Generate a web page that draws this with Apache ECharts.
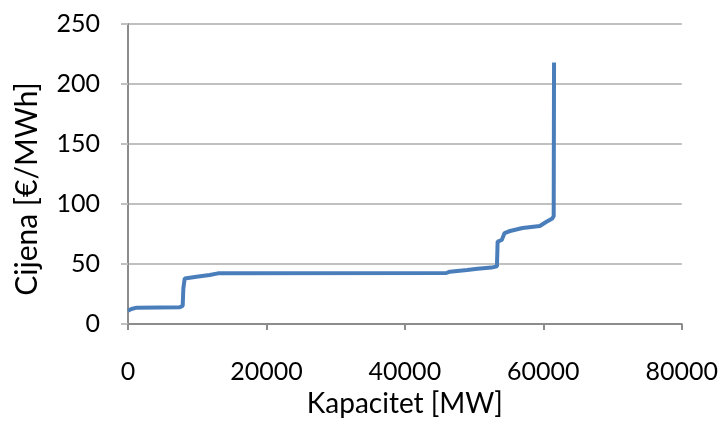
<!DOCTYPE html>
<html><head><meta charset="utf-8">
<script src="https://cdn.jsdelivr.net/npm/echarts@6/dist/echarts.min.js"></script>
<style>html,body{margin:0;padding:0;background:#fff}#c{width:721px;height:426px}</style>
</head><body><div id="c"></div>
<script>
const capacity = [0, 500, 1250, 7500, 7900, 8000, 8200, 9900, 11800, 13000, 46000, 46500, 49000, 50500, 52500, 53300, 53400, 54000, 54400, 55200, 57000, 59500, 60400, 61300, 61500, 61550];
const price    = [11, 12.5, 13.6, 14, 15, 30, 38, 39.4, 40.8, 42.2, 42.5, 43.6, 45, 46, 47, 48, 68.6, 70, 75.8, 77.5, 80, 81.7, 85, 88, 90, 218];
const xTitle = 'Kapacitet [MW]';
const yTitle = 'Cijena [€/MWh]';

const chart = echarts.init(document.getElementById('c'));
const font = 'Lato, "Open Sans", sans-serif';
chart.setOption({
  animation: false,
  grid: {left: 128, right: 39, top: 24, bottom: 102},
  xAxis: {
    type: 'value', min: 0, max: 80000, interval: 20000,
    name: xTitle, nameLocation: 'middle', nameGap: 66,
    nameTextStyle: {fontSize: 28, color: '#000', fontFamily: font},
    axisLine: {show: true, lineStyle: {color: '#8c8c8c', width: 2}},
    axisTick: {show: true, length: 6, lineStyle: {color: '#8c8c8c', width: 2}},
    axisLabel: {fontSize: 25, color: '#000', fontFamily: font, margin: 35, formatter: v => String(v)},
    splitLine: {show: false}
  },
  yAxis: {
    type: 'value', min: 0, max: 250, interval: 50,
    name: yTitle, nameLocation: 'middle', nameGap: 86,
    nameTextStyle: {fontSize: 30, color: '#000', fontFamily: font, padding: [0, 30, 0, 0]},
    axisLine: {show: true, lineStyle: {color: '#8c8c8c', width: 2}},
    axisTick: {show: true, length: 7, lineStyle: {color: '#c0c0c0', width: 2}},
    axisLabel: {fontSize: 25, color: '#000', fontFamily: font, margin: 28},
    splitLine: {show: true, lineStyle: {color: '#c0c0c0', width: 2}}
  },
  series: [{
    type: 'line',
    data: capacity.map((x, i) => [x, price[i]]),
    showSymbol: false,
    lineStyle: {color: '#4a7ebb', width: 4},
    itemStyle: {color: '#4a7ebb'}
  }]
});
</script></body></html>
